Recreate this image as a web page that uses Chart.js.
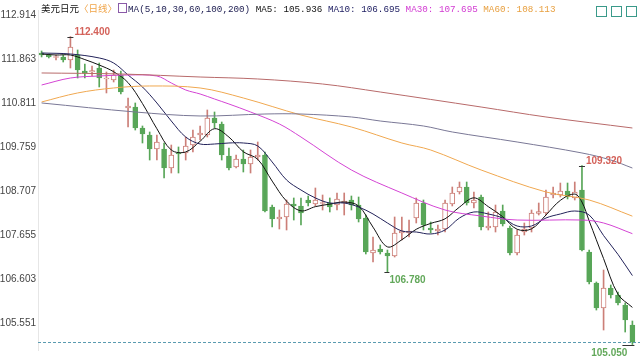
<!DOCTYPE html>
<html>
<head>
<meta charset="utf-8">
<script src="https://cdn.jsdelivr.net/npm/chart.js@4.4.0/dist/chart.umd.min.js"></script>
<style>
  html, body { margin: 0; padding: 0; background: #fff; }
  #quadro { position: relative; width: 640px; height: 360px; overflow: hidden; }
  #grafico { position: absolute; left: 0; top: 0; }
  #cabecalho { position: absolute; left: 41px; top: 1px; height: 14px; line-height: 14px; white-space: nowrap; font-size: 10px; }
  #cabecalho .cjk { font-family: "Noto Sans CJK SC", sans-serif; font-size: 9.5px; }
  #cabecalho .mono { font-family: "Liberation Mono", "DejaVu Sans Mono", monospace; font-size: 9.25px; }
  #cabecalho .ico { display: inline-block; width: 7px; height: 8px; border: 1px solid #8a5aa8; vertical-align: -1px; margin: 0 1px 0 1px; }
  #botoes { position: absolute; right: 3px; top: 3px; }
  #botoes span { display: inline-block; width: 9px; height: 9px; border: 1px solid #3a9a8a; margin-left: 4px; }
</style>
</head>
<body>
<div id="quadro">
  <canvas id="grafico" width="640" height="360"></canvas>
  <div id="cabecalho"></div>
  <div id="botoes"><span></span><span></span><span></span></div>
</div>
<script>
// candles (abertura, maxima, minima, fechamento)
const abertura = [
  112.007, 111.959, 111.900, 111.912, 111.840, 111.959, 111.578, 111.554, 111.649, 111.387,
  111.363, 111.482, 110.694, 110.718, 110.217, 110.050, 109.716, 109.716, 109.262, 109.621,
  109.621, 109.811, 110.050, 110.050, 110.456, 110.313, 109.549, 109.286, 109.477, 109.358,
  109.525, 109.573, 108.332, 108.045, 108.093, 108.403, 108.356, 108.499, 108.403, 108.415,
  108.427, 108.379, 108.427, 108.499, 108.379, 108.069, 107.234, 107.330, 107.234, 107.162,
  107.711, 107.711, 108.069, 108.427, 107.831, 107.759, 107.807, 108.403, 108.690, 108.809,
  108.427, 108.570, 107.831, 107.855, 108.236, 107.831, 107.234, 107.735, 107.831, 108.177,
  108.189, 108.618, 108.618, 108.714, 108.547, 108.737, 107.258, 106.518, 105.922, 106.399,
  106.231, 105.993, 105.515
]
const maxima = [
  112.055, 111.983, 111.959, 111.959, 112.400, 112.079, 111.745, 111.697, 111.768, 111.554,
  111.601, 111.578, 110.933, 110.814, 110.265, 110.122, 110.050, 109.859, 109.811, 109.764,
  110.002, 110.169, 110.265, 110.647, 110.599, 110.360, 109.740, 109.573, 109.692, 109.692,
  109.883, 109.645, 108.379, 108.260, 108.499, 108.547, 108.547, 108.594, 108.785, 108.618,
  108.547, 108.666, 108.666, 108.594, 108.570, 108.141, 107.616, 107.425, 107.305, 108.093,
  108.093, 108.021, 108.547, 108.499, 107.974, 107.902, 108.499, 108.809, 108.928, 108.928,
  108.690, 108.618, 108.213, 108.379, 108.379, 107.878, 107.783, 107.950, 108.260, 108.427,
  108.737, 108.809, 108.904, 108.904, 108.928, 109.320, 107.305, 106.542, 106.828, 106.470,
  106.303, 106.041, 105.611
]
const minima = [
  111.912, 111.888, 111.840, 111.792, 111.649, 111.410, 111.410, 111.458, 111.196, 111.053,
  111.315, 111.029, 110.241, 110.169, 109.859, 109.453, 109.453, 109.024, 109.143, 109.143,
  109.453, 109.645, 109.931, 110.002, 110.217, 109.453, 109.215, 109.262, 109.167, 109.143,
  109.453, 108.213, 107.855, 107.807, 107.783, 108.021, 107.902, 108.356, 108.356, 108.260,
  108.213, 108.260, 108.141, 108.260, 107.974, 107.210, 107.019, 107.210, 106.780, 107.138,
  107.544, 107.616, 107.950, 107.783, 107.711, 107.663, 107.735, 108.356, 108.642, 108.379,
  108.308, 107.783, 107.783, 107.735, 107.878, 107.186, 107.186, 107.663, 107.735, 108.141,
  108.141, 108.547, 108.570, 108.523, 108.499, 107.282, 106.494, 105.873, 105.396, 106.160,
  105.993, 105.348, 105.050
]
const fechamento = [
  111.959, 111.912, 111.924, 111.840, 112.150, 111.601, 111.530, 111.589, 111.410, 111.410,
  111.482, 111.076, 110.742, 110.217, 110.074, 109.716, 109.883, 109.262, 109.573, 109.597,
  109.788, 110.002, 110.098, 110.456, 110.337, 109.573, 109.262, 109.477, 109.358, 109.525,
  109.573, 108.236, 108.045, 108.093, 108.403, 108.356, 108.189, 108.427, 108.499, 108.439,
  108.332, 108.523, 108.475, 108.379, 108.045, 107.258, 107.305, 107.258, 107.162, 107.711,
  107.759, 107.759, 108.427, 107.902, 107.783, 107.807, 108.427, 108.666, 108.809, 108.427,
  108.499, 107.855, 107.878, 108.213, 107.926, 107.234, 107.663, 107.807, 108.189, 108.224,
  108.570, 108.666, 108.714, 108.570, 108.690, 107.305, 106.542, 105.922, 106.399, 106.231,
  106.041, 105.635, 105.109
]

// médias móveis: [nº do candle, valor]
const ma5 = [
  [1, 111.983], [3, 111.959], [5, 111.959], [7, 111.85], [9, 111.72], [11, 111.56], [13, 111.30],
  [15, 110.80], [17, 110.20], [19, 109.692], [21, 109.645], [23, 109.90], [25, 110.20], [27, 110.00],
  [29, 109.65], [31, 109.47], [33, 108.95], [35, 108.47], [37, 108.24], [39, 108.34], [41, 108.40],
  [43, 108.45], [45, 108.356], [47, 107.85], [49, 107.38], [51, 107.55], [53, 107.80], [55, 107.94],
  [57, 108.05], [59, 108.33], [61, 108.55], [63, 108.34], [65, 108.10], [67, 107.80], [69, 107.81],
  [71, 108.14], [73, 108.49], [75, 108.64], [76, 108.45], [77, 108.00], [79, 107.10], [81, 106.25],
  [83, 105.936]
]
const ma10 = [
  [1, 112.007], [5, 111.983], [9, 111.888], [11, 111.768], [13, 111.482], [15, 111.196], [17, 110.814],
  [19, 110.384], [21, 110.002], [23, 109.835], [25, 109.835], [27, 109.859], [29, 109.859], [31, 109.788],
  [33, 109.406], [35, 108.976], [37, 108.737], [39, 108.547], [41, 108.427], [43, 108.427], [45, 108.332],
  [47, 108.165], [49, 107.950], [51, 107.759], [53, 107.735], [55, 107.687], [57, 107.783], [59, 108.069],
  [61, 108.213], [63, 108.165], [65, 108.069], [67, 107.878], [69, 107.878], [71, 108.069], [73, 108.165],
  [75, 108.236], [77, 108.141], [79, 107.65], [81, 107.20], [83, 106.695]
]
const ma30 = [
  [1, 111.243], [5, 111.410], [9, 111.458], [13, 111.482], [17, 111.458], [19, 111.291], [21, 111.124],
  [23, 111.029], [25, 110.909], [27, 110.790], [30, 110.599], [34, 110.313], [37, 110.002], [44, 109.215],
  [51, 108.666], [57, 108.260], [62, 108.117], [67, 108.021], [76, 108.021], [79, 107.950], [83, 107.695]
]
const ma60 = [
  [1, 110.838], [6, 111.053], [11, 111.172], [16, 111.220], [23, 111.172], [29, 110.933], [37, 110.527],
  [44, 110.241], [51, 109.859], [55, 109.692], [62, 109.215], [71, 108.690], [77, 108.499], [83, 108.113]
]
const ma100 = [
  [1, 110.814], [14, 110.599], [23, 110.504], [32, 110.551], [37, 110.551], [44, 110.480], [48, 110.384],
  [54, 110.265], [58, 110.122], [67, 109.883], [76, 109.621], [80, 109.453], [83, 109.262]
]
const ma200 = [
  [1, 111.530], [12, 111.506], [23, 111.434], [31, 111.387], [40, 111.267], [48, 111.076], [62, 110.718],
  [71, 110.480], [83, 110.217]
]

const marcasY = [112.914, 111.863, 110.811, 109.759, 108.707, 107.655, 106.603, 105.551]
const picos = [5, 76]   // candles com máxima destacada
const vales = [49, 83]  // candles com mínima destacada

const N = abertura.length
const rotulos = abertura.map((_, i) => i + 1)

function serie(pontos) {
  const arr = new Array(N).fill(null)
  pontos.forEach(([n, v]) => { arr[n - 1] = v })
  return arr
}

const corAlta = '#cc7f78'
const corBaixa = '#58a658'
const alta = abertura.map((v, i) => fechamento[i] >= v)

// cabeçalho
const ultimo = p => p[p.length - 1][1].toFixed(3)
document.getElementById('cabecalho').innerHTML =
  '<span class="cjk" style="color:#111">美元日元</span>' +
  '<span class="cjk" style="color:#f0a448">〈日线〉</span>' +
  '<span class="ico"></span>' +
  '<span class="mono" style="color:#1c1c50">MA(5,10,30,60,100,200) </span>' +
  '<span class="mono" style="color:#111">MA5: ' + ultimo(ma5) + ' </span>' +
  '<span class="mono" style="color:#1c1c60">MA10: ' + ultimo(ma10) + ' </span>' +
  '<span class="mono" style="color:#d23ad2">MA30: ' + ultimo(ma30) + ' </span>' +
  '<span class="mono" style="color:#e8a040">MA60: ' + ultimo(ma60) + '</span>'

const destaques = {
  id: 'destaques',
  afterDatasetsDraw(chart) {
    const { ctx, chartArea, scales: { x, y } } = chart
    ctx.save()

    // linha tracejada do último fechamento
    const yUlt = Math.round(y.getPixelForValue(fechamento[N - 1])) + 0.5
    ctx.strokeStyle = '#5a9bb0'
    ctx.lineWidth = 1
    ctx.setLineDash([3, 2])
    ctx.beginPath()
    ctx.moveTo(chartArea.left, yUlt)
    ctx.lineTo(chart.width, yUlt)
    ctx.stroke()
    ctx.setLineDash([])

    ctx.font = 'bold 10px "Liberation Sans", Arial'
    ctx.textBaseline = 'middle'

    picos.forEach(n => {
      const px = x.getPixelForValue(n - 1)
      const py = Math.round(y.getPixelForValue(maxima[n - 1])) + 0.5
      ctx.strokeStyle = '#333'
      ctx.beginPath()
      ctx.moveTo(px - 3, py)
      ctx.lineTo(px + 3, py)
      ctx.stroke()
      ctx.fillStyle = '#d4625a'
      ctx.textAlign = 'left'
      ctx.fillText(maxima[n - 1].toFixed(3), px + 4, py - 5)
    })

    vales.forEach(n => {
      const px = x.getPixelForValue(n - 1)
      const py = Math.round(y.getPixelForValue(minima[n - 1])) + 0.5
      const txt = minima[n - 1].toFixed(3)
      const largura = ctx.measureText(txt).width
      const direita = px + 4 + largura > chartArea.right
      ctx.strokeStyle = '#333'
      ctx.beginPath()
      ctx.moveTo(direita ? px - 10 : px - 3, py)
      ctx.lineTo(px + 2, py)
      ctx.stroke()
      ctx.fillStyle = '#62a85a'
      ctx.textAlign = direita ? 'right' : 'left'
      ctx.fillText(txt, direita ? px - 5 : px + 2, py + 8)
    })

    ctx.restore()
  }
}

const linhaMA = (pontos, cor, largura) => ({
  type: 'line',
  data: serie(pontos),
  borderColor: cor,
  borderWidth: largura,
  pointRadius: 0,
  spanGaps: true,
  tension: 0.35,
  order: 1
})

new Chart(document.getElementById('grafico'), {
  type: 'bar',
  data: {
    labels: rotulos,
    datasets: [
      linhaMA(ma200, '#b86a6a', 1),
      linhaMA(ma100, '#7a7896', 1),
      linhaMA(ma60, '#f0a850', 1),
      linhaMA(ma30, '#d444d4', 1),
      linhaMA(ma10, '#23235a', 1),
      linhaMA(ma5, '#111111', 1),
      {
        type: 'bar',
        data: abertura.map((v, i) => [v, fechamento[i]]),
        backgroundColor: alta.map(a => a ? '#ffffff' : corBaixa),
        borderColor: alta.map(a => a ? corAlta : corBaixa),
        borderWidth: 1,
        borderSkipped: false,
        barThickness: 5,
        grouped: false,
        order: 2
      },
      {
        type: 'bar',
        data: minima.map((v, i) => [v, maxima[i]]),
        backgroundColor: alta.map(a => a ? corAlta : corBaixa),
        borderWidth: 0,
        barThickness: 1,
        grouped: false,
        order: 3
      }
    ]
  },
  options: {
    responsive: false,
    animation: false,
    devicePixelRatio: 1,
    layout: { padding: { top: 10, bottom: 10, left: 0, right: 4 } },
    plugins: {
      legend: { display: false },
      tooltip: { enabled: false }
    },
    scales: {
      x: { display: false, offset: true },
      y: {
        min: 104.919,
        max: 113.033,
        afterBuildTicks: s => { s.ticks = marcasY.map(v => ({ value: v })) },
        afterFit: s => { s.width = 38 },
        ticks: {
          callback: v => Number(v).toFixed(3),
          color: '#444',
          padding: 2,
          font: { family: '"Liberation Sans", Arial', size: 10 }
        },
        grid: { display: false, drawTicks: false },
        border: { display: true, color: '#e6e6e6' }
      }
    }
  },
  plugins: [destaques]
})
</script>
</body>
</html>
